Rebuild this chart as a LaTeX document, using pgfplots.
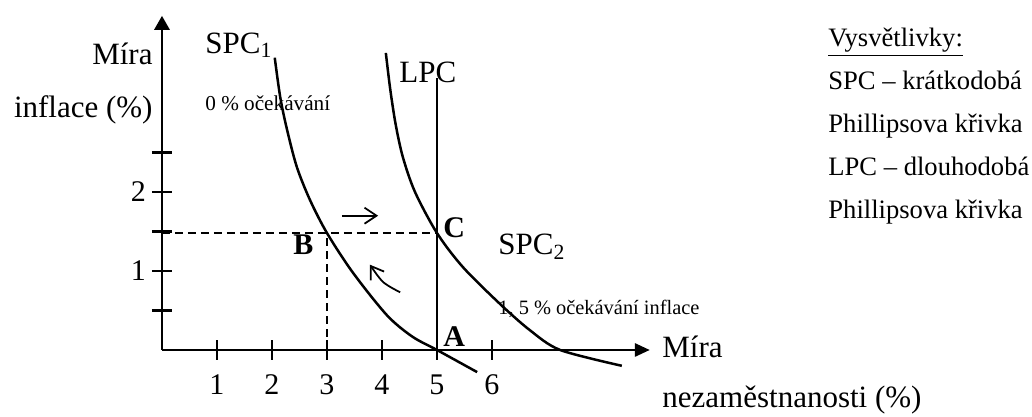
\documentclass[border=0pt]{standalone}
\usepackage{fontspec}
\setmainfont{Liberation Serif}
\usepackage{pgfplots}
\pgfplotsset{compat=1.18}
\usetikzlibrary{arrows.meta}
\newcommand{\bigf}{\fontsize{15.5}{18}\selectfont}
\newcommand{\legf}{\fontsize{13.3}{16}\selectfont}
\newcommand{\smf}{\fontsize{10.6}{13}\selectfont}
\newcommand{\smff}{\fontsize{10.2}{13}\selectfont}
\newcommand{\bldf}{\fontsize{15}{18}\selectfont\bfseries}
\begin{document}
\begin{tikzpicture}
\begin{axis}[
  x=27.5pt, y=39.5pt,
  xmin=0, xmax=8.87, ymin=0, ymax=4.23,
  axis lines=left,
  axis line style={line width=1.4pt},
  x axis line style={-{Triangle[length=7.5pt,width=6.5pt]}},
  y axis line style={-{Triangle[length=7pt,width=7.5pt]}},
  clip=false,
  xtick={1,2,3,4,5,6},
  ytick={0.5,1,1.5,2,2.5}, yticklabels={,1,,2,},
  tick align=center,
  major tick length=10pt,
  tick style={line width=1.1pt, black},
  /pgf/number format/assume math mode=true,
  ticklabel style={font=\fontsize{15}{18}\selectfont},
  xticklabel style={yshift=-4pt},
  yticklabel style={xshift=0.5pt},
]
\coordinate (bbA) at (axis cs:-2.945,-0.848);
\coordinate (bbB) at (axis cs:15.818,4.430);
% curves
\addplot[black, line width=1.25pt, smooth] coordinates {(2.05,3.70) (2.15,3.20) (2.27,2.80) (2.45,2.32) (2.69,1.90) (3.0,1.48) (3.47,0.98) (4.09,0.44) (4.55,0.17) (5.0,0) (5.73,-0.28)};
\addplot[black, line width=1.25pt, smooth] coordinates {(4.07,3.76) (4.15,3.30) (4.25,2.85) (4.38,2.44) (4.6,2.0) (5.0,1.48) (5.47,1.05) (6.15,0.58) (6.69,0.25) (7.24,0) (8.36,-0.2)};
% LPC
\addplot[black, line width=1.25pt] coordinates {(5,0) (5,3.44)};
% dashed
\addplot[black, line width=1pt, dash pattern=on 4pt off 2.5pt] coordinates {(0,1.48) (5,1.48)};
\addplot[black, line width=1pt, dash pattern=on 4pt off 2.5pt] coordinates {(3,0) (3,1.48)};
% arrows
\addplot[black, line width=0.9pt, -{Straight Barb[length=6pt,width=8pt]}] coordinates {(3.27,1.70) (3.93,1.70)};
\addplot[black, line width=0.9pt, smooth, -{Straight Barb[length=6pt,width=8pt]}] coordinates {(4.33,0.73) (4.02,0.86) (3.78,1.08)};
% labels
\node[anchor=base east, inner sep=0pt, font=\bigf] at (axis cs:-0.164,3.608) {Míra};
\node[anchor=base east, inner sep=0pt, font=\bigf] at (axis cs:-0.164,2.937) {inflace (\%)};
\node[anchor=base west, inner sep=0pt, font=\bigf] at (axis cs:0.782,3.759) {SPC\textsubscript{1}};
\node[anchor=base west, inner sep=0pt, font=\bigf] at (axis cs:4.309,3.380) {LPC};
\node[anchor=base west, inner sep=0pt, font=\bigf] at (axis cs:6.109,1.203) {SPC\textsubscript{2}};
\node[anchor=base west, inner sep=0pt, font=\smf] at (axis cs:0.782,3.025) {0 \% očekávání};
\node[anchor=base west, inner sep=0pt, font=\smff] at (axis cs:6.109,0.443) {1, 5 \% očekávání inflace};
\node[anchor=base west, inner sep=0pt, font=\bldf] at (axis cs:2.382,1.203) {B};
\node[anchor=base west, inner sep=0pt, font=\bldf] at (axis cs:5.109,1.418) {C};
\node[anchor=base west, inner sep=0pt, font=\bldf] at (axis cs:5.109,0.038) {A};
\node[anchor=base west, inner sep=0pt, font=\bigf] at (axis cs:9.091,-0.089) {Míra};
\node[anchor=base west, inner sep=0pt, font=\bigf] at (axis cs:9.091,-0.734) {nezaměstnanosti (\%)};
% legend text
\node[anchor=base west, inner sep=0pt, font=\legf] at (axis cs:12.109,3.835) {\underline{Vysvětlivky:}};
\node[anchor=base west, inner sep=0pt, font=\legf] at (axis cs:12.109,3.291) {SPC – krátkodobá};
\node[anchor=base west, inner sep=0pt, font=\legf] at (axis cs:12.109,2.747) {Phillipsova křivka};
\node[anchor=base west, inner sep=0pt, font=\legf] at (axis cs:12.109,2.203) {LPC – dlouhodobá};
\node[anchor=base west, inner sep=0pt, font=\legf] at (axis cs:12.109,1.658) {Phillipsova křivka};
\end{axis}
\pgfresetboundingbox
\path (bbA) rectangle (bbB);
\end{tikzpicture}
\end{document}
